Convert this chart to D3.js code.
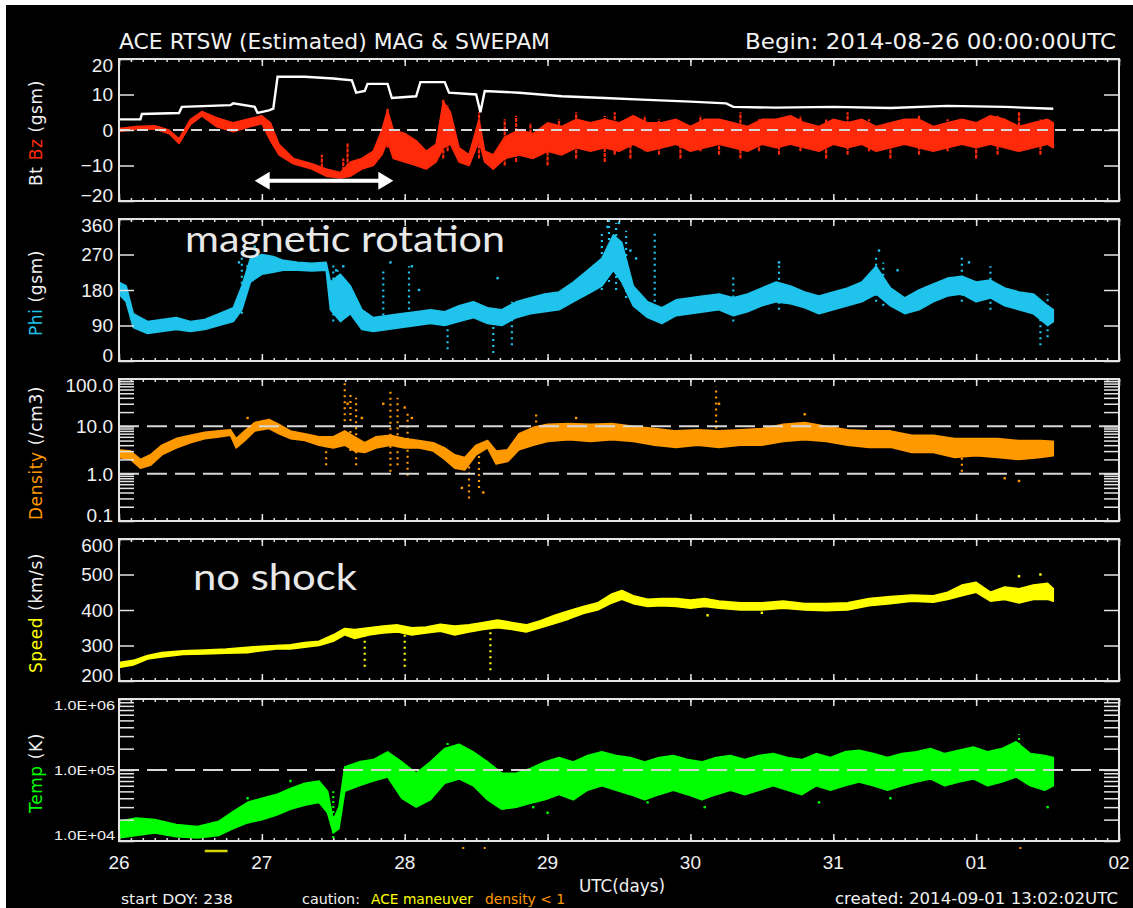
<!DOCTYPE html>
<html><head><meta charset="utf-8">
<script src="https://cdn.jsdelivr.net/npm/d3@7"></script>
<style>html,body{margin:0;padding:0;background:#fff;}svg{display:block;}</style>
</head><body>
<svg id="c" width="1133" height="908"></svg>
<script>
// ---------------- DATA (time in days since 2014-08-26 00:00 UTC) ----------------
const dayLabels = ["26","27","28","29","30","31","01","02"];

const btT = [0,0.15,0.16,0.42,0.44,0.78,0.8,0.95,0.97,1.05,1.08,1.11,1.3,1.5,1.63,1.66,1.72,1.74,1.88,1.91,2.08,2.11,2.28,2.31,2.5,2.53,2.56,2.8,3.1,3.4,3.7,4.0,4.25,4.3,4.6,5.0,5.4,5.8,6.2,6.54];
const btV = [3,3,4.5,4.8,6.5,7,7.5,6.5,4.8,5.5,6,15,15,14.5,14,10.5,11,13,13,9,9.5,13.5,13.5,10.5,10,5,11,10.5,9.5,9,8.5,8,7.5,6.5,6.3,6.5,6.2,6.8,6.5,6];

const bzT  = [0,0.12,0.25,0.35,0.42,0.5,0.58,0.68,0.8,0.92,1.0,1.06,1.12,1.22,1.35,1.45,1.55,1.62,1.7,1.78,1.84,1.88,1.92,2.0,2.08,2.15,2.22,2.27,2.32,2.38,2.45,2.52,2.56,2.62,2.7,
              2.8,2.9,3.0,3.1,3.2,3.3,3.4,3.5,3.6,3.7,3.8,3.9,4.0,4.1,4.2,4.3,4.4,4.5,4.6,4.7,4.8,4.9,5.0,5.1,5.2,5.3,5.4,5.5,5.6,5.7,5.8,5.9,6.0,6.1,6.2,6.3,6.4,6.5,6.54];
const bzLo = [-0.4,0.2,0.3,-1,-3.8,1.5,4,1,-0.5,1,1.8,-3,-7,-9.5,-11,-13,-13.5,-13,-11,-10,-7,-3,-8,-9,-10,-11,-9,-5,-4,-9,-10,-3,-9,-11,-8,
              -7,-8,-6,-7,-5,-6,-5,-6,-4,-6,-5,-4,-6,-5,-4,-5,-6,-4,-5,-4,-5,-6,-4,-5,-4,-6,-5,-4,-5,-6,-5,-4,-5,-4,-5,-6,-5,-4,-5];
const bzHi = [0.4,1,1.2,0,-2.5,3,5.2,3.5,2,3.2,4,2,-4,-8,-9.5,-11,-12,-9,-8,-6,0,5.5,0,-1,-3,-6,-4,8,5,-5,-7,3,-6,-7,-2,
              0,-1,2,1,3,2,3,2,4,2,2,3,1,3,3,2,1,3,3,4,2,1,3,2,3,1,2,3,3,1,2,3,2,4,3,1,2,3,2];
const bzStreakT  = [1.42,1.57,1.6,1.88,2.27,2.3,2.52,2.7,2.78,2.88,3.0,3.08,3.2,3.3,3.4,3.47,3.58,3.68,3.78,3.93,4.07,4.2,4.35,4.48,4.62,4.77,4.95,5.1,5.25,5.4,5.6,5.8,6.0,6.15,6.3,6.45];
const bzStreakLo = [-12,-13,-12,-5,-8,-6,-8,-10,-9,-8,-10,-7,-8,-6,-9,-7,-8,-6,-7,-8,-6,-7,-8,-6,-7,-6,-8,-7,-6,-8,-7,-6,-8,-7,-6,-7];
const bzStreakHi = [-7,-8,-3.5,6,8.5,7,5,3,4,2,-2,3,5,2,4,5,3,4,3,2,4,3,5,3,2,4,3,5,3,2,4,3,2,4,5,3];

const phiT  = [0,0.05,0.1,0.2,0.3,0.4,0.5,0.6,0.7,0.8,0.86,0.92,1.0,1.08,1.15,1.25,1.35,1.45,1.48,1.55,1.62,1.7,1.78,1.88,1.98,2.08,2.18,2.28,2.38,2.48,2.58,2.68,2.78,2.88,2.98,3.08,3.18,3.28,3.38,3.46,3.52,3.6,3.7,3.8,3.9,
               4.0,4.1,4.2,4.3,4.4,4.5,4.6,4.7,4.8,4.9,5.0,5.1,5.2,5.3,5.4,5.5,5.6,5.7,5.8,5.9,6.0,6.1,6.2,6.3,6.4,6.5,6.54];
const phiLo = [170,150,85,70,75,80,75,80,90,100,130,200,220,225,230,230,228,230,130,100,120,80,75,80,85,90,95,90,100,110,95,90,110,120,125,130,150,170,190,230,200,140,110,95,115,
               120,125,130,115,125,140,150,145,135,120,130,140,150,170,140,120,130,150,165,170,150,160,140,130,120,90,100];
const phiHi = [200,190,120,100,105,110,100,105,120,135,190,260,270,265,255,250,248,250,200,220,190,130,110,115,120,125,130,125,140,150,135,130,150,160,170,175,200,230,260,320,300,190,150,135,155,
               160,165,170,160,170,185,200,190,175,165,175,185,200,240,185,160,180,195,210,215,200,205,185,175,170,140,130];
const phiStreakT  = [0.86,1.5,1.53,1.58,1.85,2.03,2.3,2.62,2.75,3.38,3.43,3.48,3.55,3.75,4.3,4.62,5.3,5.35,5.9,6.1,6.45,6.5];
const phiStreakLo = [120,100,120,110,100,100,30,20,40,180,200,180,160,120,100,130,150,140,150,130,40,60];
const phiStreakHi = [280,250,230,210,230,240,120,140,150,330,360,350,330,330,220,250,270,250,270,240,160,170];
const phiDotT = [0.84,0.88,0.9,0.95,1.52,1.57,1.62,1.9,2.05,2.1,2.65,3.42,3.5,3.58,3.62,4.62,5.32,5.45,5.95];
const phiDotV = [250,280,240,290,230,240,180,250,240,180,210,340,350,280,260,250,280,230,250];

const denT  = [0,0.08,0.15,0.22,0.3,0.4,0.5,0.6,0.7,0.78,0.82,0.88,0.95,1.05,1.12,1.2,1.3,1.4,1.5,1.58,1.65,1.72,1.8,1.9,2.0,2.1,2.2,2.28,2.35,2.42,2.5,2.58,2.64,2.72,2.8,2.9,3.0,3.15,3.3,3.45,3.6,3.75,3.9,4.05,4.2,4.35,4.5,4.65,4.8,4.95,5.1,5.25,5.4,5.55,5.7,5.85,6.0,6.15,6.3,6.45,6.54];
const denLo = [2.2,2.0,1.3,1.5,2.5,3.5,4.5,5.5,6,6.5,3.5,5,8,9,7,5.5,5,4,3.5,4,3,2.8,3.5,4,3.5,3.5,3,2,1.3,1.2,2.5,3.5,1.6,1.8,
               3.2,4,4.8,5.2,4.8,5.2,4.8,4,3.6,4,3.6,4,4,4.8,5.2,4.8,4,3.6,3.6,2.8,2.8,2.2,2.4,2.2,2,2.2,2.4];
const denHi = [3.2,3.0,2.0,2.5,4,5.5,6.5,7.5,8,8.5,5.5,8,12,14,11,8,7,6,6,8,6,4.5,6,6.5,5.5,5,4.5,3.5,2.5,2.2,4,5,3,3.2,
               7,9.5,11,11.5,11,11.5,10,9,8,8.5,8,8.5,9,11,12,10,8.5,8,8,6.5,6.5,5.5,5.5,5.5,5,5,4.8];
const denStreakT  = [1.45,1.58,1.62,1.66,1.9,1.95,2.02,2.45,2.52,2.92,4.18,5.9];
const denStreakLo = [1.5,4,3,1.5,1.1,1.5,0.9,0.3,0.5,5,5,1.1];
const denStreakHi = [6,90,50,40,60,40,20,2.5,3,20,70,5];
const denDotT = [0.9,1.0,1.6,1.7,1.85,2.0,2.05,2.4,2.55,3.2,4.2,4.8,6.2,6.3];
const denDotV = [15,12,30,15,30,25,15,0.5,0.4,15,30,18,0.8,0.7];

const spdT  = [0,0.1,0.2,0.3,0.45,0.6,0.75,0.9,1.0,1.1,1.2,1.3,1.4,1.5,1.58,1.65,1.75,1.85,1.95,2.05,2.15,2.25,2.35,2.45,2.55,2.65,2.75,2.85,2.95,3.05,3.15,3.25,3.35,3.45,3.52,3.6,3.7,3.8,3.9,4.0,4.1,4.2,4.35,4.5,4.65,4.8,4.95,5.1,5.25,5.4,5.55,5.7,5.8,5.9,6.0,6.1,6.2,6.3,6.4,6.5,6.54];
const spdLo = [238,245,262,268,275,276,278,280,285,290,290,295,300,312,330,320,330,335,338,330,335,340,330,338,345,350,345,338,350,362,375,390,400,420,430,418,410,412,410,405,410,405,400,400,405,400,398,400,412,418,425,422,430,440,450,425,430,420,430,430,425];
const spdHi = [252,258,272,280,285,287,290,295,298,300,302,308,312,330,348,345,350,355,358,350,352,360,355,358,365,372,365,358,370,385,398,410,420,445,455,440,430,432,432,428,432,425,420,420,425,418,418,420,432,438,442,440,450,470,478,450,465,460,470,475,460];
const spdStreakT  = [1.72,2.0,2.6];
const spdStreakLo = [240,240,230];
const spdStreakHi = [335,340,350];
const spdDotT = [4.12,4.5,6.45,6.3];
const spdDotV = [385,392,500,495];

const tmpT  = [0,0.12,0.25,0.4,0.55,0.7,0.8,0.9,1.0,1.1,1.2,1.3,1.4,1.46,1.5,1.54,1.58,1.68,1.78,1.88,
               1.98,2.08,2.18,2.28,2.38,2.48,2.58,2.68,2.78,2.88,2.98,3.08,3.18,3.28,3.38,3.48,3.58,3.68,3.78,3.88,3.98,4.08,4.18,4.28,4.38,4.48,4.58,4.68,4.78,4.88,4.98,5.08,5.18,5.28,5.38,5.48,5.58,5.68,5.78,5.88,5.98,6.08,6.18,6.28,6.38,6.48,6.54];
const tmpLo = [1.1e4,1.2e4,1.3e4,1.15e4,1.1e4,1.2e4,1.5e4,1.8e4,2.0e4,2.3e4,2.8e4,3.2e4,3.5e4,2.5e4,1.3e4,1.5e4,5e4,6e4,7e4,8e4,
               4e4,3e4,3.8e4,6.5e4,7.5e4,6e4,3.8e4,2.8e4,3e4,3.4e4,3.8e4,4.5e4,3.8e4,5.2e4,6e4,5.2e4,4.5e4,3.8e4,4.5e4,5.2e4,4.5e4,3.8e4,4.5e4,5.2e4,4.5e4,5.2e4,6e4,5.2e4,4.5e4,6e4,5.2e4,6e4,6.8e4,6e4,5.2e4,6e4,6.8e4,7.5e4,6e4,6.8e4,7.5e4,6e4,6.8e4,8e4,6e4,5.2e4,6e4];
const tmpHi = [1.9e4,2.1e4,2.0e4,1.7e4,1.6e4,1.9e4,2.6e4,3.5e4,4.0e4,4.5e4,5.5e4,6.5e4,7.0e4,5e4,2.0e4,3e4,1.1e5,1.3e5,1.4e5,1.8e5,
               1.3e5,9e4,1.3e5,2e5,2.3e5,1.8e5,1.3e5,9e4,9e4,1.05e5,1.3e5,1.5e5,1.3e5,1.6e5,1.8e5,1.6e5,1.5e5,1.3e5,1.5e5,1.6e5,1.4e5,1.3e5,1.5e5,1.6e5,1.4e5,1.6e5,1.7e5,1.5e5,1.4e5,1.7e5,1.5e5,1.8e5,1.9e5,1.7e5,1.5e5,1.7e5,1.8e5,2e5,1.7e5,1.9e5,2.1e5,1.8e5,2e5,2.5e5,1.7e5,1.6e5,1.5e5];
const tmpStreakT  = [1.5,2.3,6.3];
const tmpStreakLo = [1.1e4,1e5,1e5];
const tmpStreakHi = [5e4,2.5e5,3.2e5];
const tmpDotT = [2.9,3.0,3.7,4.1,4.9,5.4,6.5,0.9,1.2];
const tmpDotV = [3e4,2.5e4,3.5e4,3e4,3.5e4,4e4,3e4,4e4,7e4];

const maneuverT = [0.6, 0.76];
const lowDensityT = [2.41, 2.56, 6.31];
const arrowSpan = [0.95, 1.92];
const arrowLevel = -14.3;

const bzTicks = [-20,-10,0,10,20],   bzTickLabels = ["\u221220","\u221210","0","10","20"];
const phiTicks = [0,90,180,270,360], phiTickLabels = ["0","90","180","270","360"];
const denTicks = [0.1,1,10,100],     denTickLabels = ["0.1","1.0","10.0","100.0"];
const spdTicks = [200,300,400,500,600], spdTickLabels = ["200","300","400","500","600"];
const tmpTicks = [1e4,1e5,1e6],      tmpTickLabels = ["1.0E+04","1.0E+05","1.0E+06"];

// ---------------- DRAWING ----------------
const svg = d3.select('#c');
svg.append('rect').attr('width',1133).attr('height',908).attr('fill','#fff');
svg.append('rect').attr('x',6).attr('y',5).attr('width',1127).attr('height',903).attr('fill','#000');
const defs = svg.append('defs');

const X = d3.scaleLinear().domain([0,7]).range([119,1119]);
const FRAME = '#e4e4e4';
const TF = '"Liberation Sans", Arial, sans-serif';
const LF = '"DejaVu Sans", sans-serif';

const C = {bz:'#ff2a0a', phi:'#1fc3ec', den:'#ff9900', spd:'#ffff00', tmp:'#00ff00'};

const panels = [
 {id:'bz',  top:59,  bottom:201, log:false, domain:[-20,20],   ticks:bzTicks,  labels:bzTickLabels,  dashes:[0],     dash:'11,7'},
 {id:'phi', top:219, bottom:361, log:false, domain:[0,360],    ticks:phiTicks, labels:phiTickLabels, dashes:[]},
 {id:'den', top:379, bottom:521, log:true,  domain:[0.1,100],  ticks:denTicks, labels:denTickLabels, dashes:[1,10],  dash:'20,8'},
 {id:'spd', top:539, bottom:681, log:false, domain:[200,600],  ticks:spdTicks, labels:spdTickLabels, dashes:[]},
 {id:'tmp', top:699, bottom:841, log:true,  domain:[1e4,1e6],  ticks:tmpTicks, labels:tmpTickLabels, dashes:[1e5],   dash:'20,8', small:true}
];

function band(layer, y, T, lo, hi, color){
  const rows = T.map((t,i)=>({t, lo:lo[i], hi:hi[i]}));
  layer.append('path').datum(rows)
    .attr('d', d3.area().x(d=>X(d.t)).y0(d=>y(d.lo)).y1(d=>y(d.hi)))
    .attr('fill', color).attr('stroke', color).attr('stroke-width', 1.6).attr('stroke-linejoin','round');
}
function streaks(layer, y, T, lo, hi, color, dash){
  layer.selectAll(null).data(T.map((t,i)=>({t, lo:lo[i], hi:hi[i]}))).join('line')
    .attr('x1', d=>X(d.t)).attr('x2', d=>X(d.t)).attr('y1', d=>y(d.lo)).attr('y2', d=>y(d.hi))
    .attr('stroke', color).attr('stroke-width', 2.2).attr('stroke-dasharray', dash);
}
function dots(layer, y, T, V, color){
  layer.selectAll(null).data(T.map((t,i)=>({t, v:V[i]}))).join('rect')
    .attr('x', d=>X(d.t)-1.2).attr('y', d=>y(d.v)-1.2).attr('width',2.4).attr('height',2.4).attr('fill', color);
}

const minorX = d3.range(0, 7.0001, 1/12);
const majorX = d3.range(0, 8);

panels.forEach(p=>{
  const y = (p.log ? d3.scaleLog() : d3.scaleLinear()).domain(p.domain).range([p.bottom, p.top]);
  p.y = y;
  defs.append('clipPath').attr('id','clip-'+p.id).append('rect')
     .attr('x',119).attr('y',p.top).attr('width',1000).attr('height',p.bottom-p.top);
  p.layer = svg.append('g').attr('clip-path',`url(#clip-${p.id})`);
});

const P = Object.fromEntries(panels.map(p=>[p.id,p]));

// Bz / Bt
band(P.bz.layer, P.bz.y, bzT, bzLo, bzHi, C.bz);
streaks(P.bz.layer, P.bz.y, bzStreakT, bzStreakLo, bzStreakHi, C.bz, '4,1');
P.bz.layer.append('path').datum(btT.map((t,i)=>({t, v:btV[i]})))
  .attr('d', d3.line().x(d=>X(d.t)).y(d=>P.bz.y(d.v)))
  .attr('fill','none').attr('stroke','#fff').attr('stroke-width',2.4);
// Phi
band(P.phi.layer, P.phi.y, phiT, phiLo, phiHi, C.phi);
streaks(P.phi.layer, P.phi.y, phiStreakT, phiStreakLo, phiStreakHi, C.phi, '2,4');
dots(P.phi.layer, P.phi.y, phiDotT, phiDotV, C.phi);
// Density
band(P.den.layer, P.den.y, denT, denLo, denHi, C.den);
streaks(P.den.layer, P.den.y, denStreakT, denStreakLo, denStreakHi, C.den, '2,4');
dots(P.den.layer, P.den.y, denDotT, denDotV, C.den);
// Speed
band(P.spd.layer, P.spd.y, spdT, spdLo, spdHi, C.spd);
streaks(P.spd.layer, P.spd.y, spdStreakT, spdStreakLo, spdStreakHi, C.spd, '2,4');
dots(P.spd.layer, P.spd.y, spdDotT, spdDotV, C.spd);
// Temp
band(P.tmp.layer, P.tmp.y, tmpT, tmpLo, tmpHi, C.tmp);
streaks(P.tmp.layer, P.tmp.y, tmpStreakT, tmpStreakLo, tmpStreakHi, C.tmp, '2,3');
dots(P.tmp.layer, P.tmp.y, tmpDotT, tmpDotV, C.tmp);

// axes, frames, dashed lines, labels
panels.forEach(p=>{
  const y = p.y;
  const g = svg.append('g');
  p.dashes.forEach(v=>{
    g.append('line').attr('x1',119).attr('x2',1119).attr('y1',y(v)).attr('y2',y(v))
     .attr('stroke','#d8d8d8').attr('stroke-width',2).attr('stroke-dasharray',p.dash);
  });
  const yt = p.log ? y.ticks() : p.ticks;
  g.append('g').attr('transform',`translate(0,${p.bottom})`).call(d3.axisBottom(X).tickValues(minorX).tickSize(-3).tickFormat(''));
  g.append('g').attr('transform',`translate(0,${p.bottom})`).call(d3.axisBottom(X).tickValues(majorX).tickSize(-7).tickFormat(''));
  g.append('g').attr('transform',`translate(0,${p.top})`).call(d3.axisTop(X).tickValues(minorX).tickSize(-3).tickFormat(''));
  g.append('g').attr('transform',`translate(0,${p.top})`).call(d3.axisTop(X).tickValues(majorX).tickSize(-7).tickFormat(''));
  g.append('g').attr('transform',`translate(119,0)`).call(d3.axisLeft(y).tickValues(yt).tickSize(-15).tickFormat(''));
  g.append('g').attr('transform',`translate(1119,0)`).call(d3.axisRight(y).tickValues(yt).tickSize(-15).tickFormat(''));
  g.selectAll('.domain').remove();
  g.selectAll('.tick line').attr('stroke',FRAME).attr('stroke-width',1.5);
  g.append('rect').attr('x',119).attr('y',p.top).attr('width',1000).attr('height',p.bottom-p.top)
    .attr('fill','none').attr('stroke',FRAME).attr('stroke-width',2);
  p.ticks.forEach((v,i)=>{
    let cy = Math.max(p.top+6, Math.min(p.bottom-6, y(v)));
    const t = g.append('text').attr('x', p.small?115:113).attr('y', cy).attr('dy','0.36em')
      .attr('text-anchor','end').attr('fill','#f0f0f0').attr('font-family',TF)
      .attr('font-size', p.small?13:19).text(p.labels[i]);
    if(p.small) t.attr('textLength',61).attr('lengthAdjust','spacingAndGlyphs');
  });
});

// y axis titles (rotated)
const titles = [
  {p:'bz',  parts:[['Bt','#f0f0f0'],[' Bz',C.bz],[' (gsm)','#f0f0f0']]},
  {p:'phi', parts:[['Phi',C.phi],[' (gsm)','#f0f0f0']]},
  {p:'den', parts:[['Density',C.den],[' (/cm3)','#f0f0f0']]},
  {p:'spd', parts:[['Speed',C.spd],[' (km/s)','#f0f0f0']]},
  {p:'tmp', parts:[['Temp',C.tmp],[' (K)','#f0f0f0']]}
];
titles.forEach(tt=>{
  const p = P[tt.p];
  const cy = (p.top+p.bottom)/2 + 3;
  const t = svg.append('text').attr('transform',`translate(42,${cy}) rotate(-90)`)
    .attr('text-anchor','middle').attr('font-family',LF).attr('font-size',17).attr('letter-spacing',0.6);
  tt.parts.forEach(([s,c])=>t.append('tspan').attr('fill',c).attr('xml:space','preserve').text(s));
});

// x tick labels
majorX.forEach((d,i)=>{
  svg.append('text').attr('x',X(d)).attr('y',869).attr('text-anchor','middle')
    .attr('fill','#f0f0f0').attr('font-family',TF).attr('font-size',19).text(dayLabels[i]);
});

// header
svg.append('text').attr('x',119).attr('y',49).attr('fill','#f2f2f2').attr('font-family',LF).attr('font-size',21)
  .attr('textLength',431).attr('lengthAdjust','spacingAndGlyphs').text('ACE RTSW (Estimated) MAG & SWEPAM');
svg.append('text').attr('x',745).attr('y',49).attr('fill','#f2f2f2').attr('font-family',LF).attr('font-size',21)
  .attr('textLength',371).attr('lengthAdjust','spacingAndGlyphs').text('Begin: 2014-08-26 00:00:00UTC');

// footer
const foot = (x,y,len,size,color,txt)=>svg.append('text').attr('x',x).attr('y',y).attr('fill',color)
  .attr('font-family',LF).attr('font-size',size).attr('textLength',len).attr('lengthAdjust','spacingAndGlyphs').text(txt);
foot(579,892,86,17,'#f0f0f0','UTC(days)');
foot(121,904,112,14,'#f0f0f0','start DOY: 238');
foot(302,904,58,14,'#f0f0f0','caution:');
foot(371,904,102,14,C.spd,'ACE maneuver');
foot(485,904,80,14,C.den,'density < 1');
foot(835,904,283,15,'#f0f0f0','created: 2014-09-01 13:02:02UTC');

// maneuver / low density markers
svg.append('line').attr('x1',X(maneuverT[0])).attr('x2',X(maneuverT[1])).attr('y1',851).attr('y2',851)
  .attr('stroke','#d4d400').attr('stroke-width',2.5);
lowDensityT.forEach(t=>svg.append('rect').attr('x',X(t)-1).attr('y',847).attr('width',2).attr('height',2).attr('fill',C.den));

// annotations
svg.append('text').attr('x',185).attr('y',252).attr('fill','#e8e8e8').attr('font-family','Lato, sans-serif')
  .attr('font-size',36).attr('textLength',320).attr('lengthAdjust','spacingAndGlyphs').text('magnetic rotation');
svg.append('text').attr('x',193).attr('y',590).attr('fill','#e8e8e8').attr('font-family','Lato, sans-serif')
  .attr('font-size',36).attr('textLength',164).attr('lengthAdjust','spacingAndGlyphs').text('no shock');

// double arrow
const ax0 = X(arrowSpan[0]), ax1 = X(arrowSpan[1]), ay = P.bz.y(arrowLevel);
svg.append('line').attr('x1',ax0+10).attr('x2',ax1-10).attr('y1',ay).attr('y2',ay).attr('stroke','#fff').attr('stroke-width',4);
svg.append('path').attr('d',`M${ax0},${ay} L${ax0+15},${ay-9} L${ax0+15},${ay+9} Z`).attr('fill','#fff');
svg.append('path').attr('d',`M${ax1},${ay} L${ax1-15},${ay-9} L${ax1-15},${ay+9} Z`).attr('fill','#fff');
</script>
</body></html>
